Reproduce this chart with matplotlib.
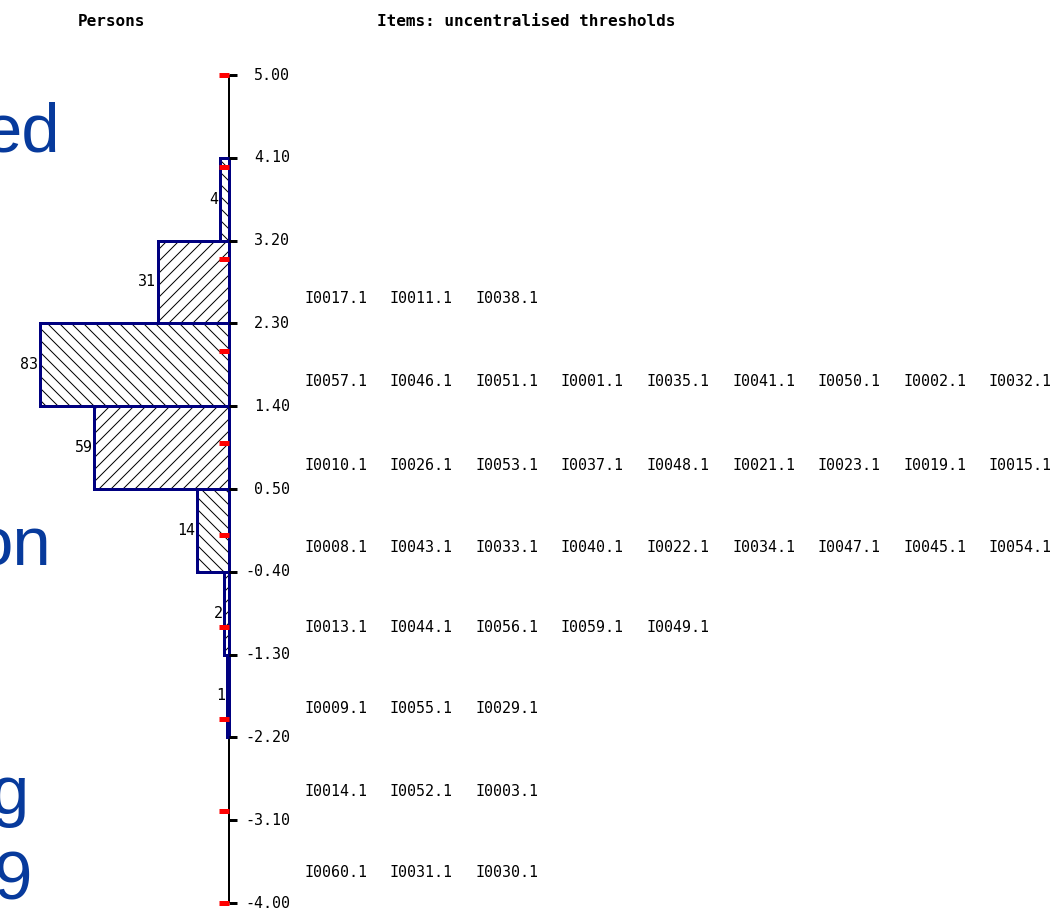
import numpy as np
import matplotlib.pyplot as plt

# person histogram (bins run top to bottom)
bin_edges = [4.10, 3.20, 2.30, 1.40, 0.50, -0.40, -1.30, -2.20]
person_counts = [4, 31, 83, 59, 14, 2, 1]
bar_hatches = ['\\\\', '//', '\\\\', '//', '\\\\', '//', '\\\\']

tick_values = [5.00, 4.10, 3.20, 2.30, 1.40, 0.50, -0.40, -1.30, -2.20, -3.10, -4.00]
red_marks = [5, 4, 3, 2, 1, 0, -1, -2, -3, -4]

# item threshold rows (logit position of each text row)
item_row_pos = [2.57, 1.67, 0.76, -0.14, -1.01, -1.89, -2.79, -3.67]
item_rows = [
    ['I0017.1', 'I0011.1', 'I0038.1'],
    ['I0057.1', 'I0046.1', 'I0051.1', 'I0001.1', 'I0035.1', 'I0041.1', 'I0050.1', 'I0002.1', 'I0032.1'],
    ['I0010.1', 'I0026.1', 'I0053.1', 'I0037.1', 'I0048.1', 'I0021.1', 'I0023.1', 'I0019.1', 'I0015.1'],
    ['I0008.1', 'I0043.1', 'I0033.1', 'I0040.1', 'I0022.1', 'I0034.1', 'I0047.1', 'I0045.1', 'I0054.1'],
    ['I0013.1', 'I0044.1', 'I0056.1', 'I0059.1', 'I0049.1'],
    ['I0009.1', 'I0055.1', 'I0029.1'],
    ['I0014.1', 'I0052.1', 'I0003.1'],
    ['I0060.1', 'I0031.1', 'I0030.1'],
]

DPI = 72
W, H = 1053, 910
MONO = 'DejaVu Sans Mono'
NAVY = '#000080'
BLUE = '#073a9c'

fig = plt.figure(figsize=(W / DPI, H / DPI), dpi=DPI)
ax = fig.add_axes([0, 0, 1, 1])

px_per_person = 2.28
axis_px = 229
px_per_logit = 92.0
ax.set_xlim(-axis_px / px_per_person, (W - axis_px) / px_per_person)
ax.set_ylim(5 - (H - 75) / px_per_logit, 5 + 75 / px_per_logit)
ax.axis('off')

edges = np.array(bin_edges)
centers = (edges[:-1] + edges[1:]) / 2
heights = edges[:-1] - edges[1:]
counts = np.array(person_counts)

# hatch fill
bars = ax.barh(centers, -counts, height=heights, left=0, color='white',
               edgecolor='black', linewidth=0, zorder=1)
for b, h in zip(bars, bar_hatches):
    b.set_hatch(h)
# outlines
ax.barh(centers, -counts, height=heights, left=0, fill=False,
        edgecolor=NAVY, linewidth=3, zorder=3)

for c, y in zip(counts, centers):
    ax.annotate(str(c), (-c, y), xytext=(-2, 0), textcoords='offset points',
                ha='right', va='center', family=MONO, fontsize=15)

# axis
ax.vlines(0, min(tick_values), max(tick_values), color='black', lw=2, zorder=2)
ax.plot(np.zeros(len(tick_values)), tick_values, ls='none', marker=1, ms=8,
        mew=3, color='black', zorder=4)
ax.plot(np.zeros(len(red_marks)), red_marks, ls='none', marker=0, ms=10,
        mew=5, color='red', zorder=5)
for v in tick_values:
    ax.annotate(f'{v:.2f}', (0, v), xytext=(61, 0), textcoords='offset points',
                ha='right', va='center', family=MONO, fontsize=15)

# item labels
for y, row in zip(item_row_pos, item_rows):
    for i, name in enumerate(row):
        ax.annotate(name, (0, y), xytext=(75 + 85.6 * i, 0),
                    textcoords='offset points', ha='left', va='center',
                    family=MONO, fontsize=15)

# headers
fig.text(78 / W, 1 - 22 / H, 'Persons', family=MONO, fontsize=16,
         fontweight='bold', ha='left', va='center')
fig.text(377 / W, 1 - 22 / H, 'Items: uncentralised thresholds', family=MONO,
         fontsize=16, fontweight='bold', ha='left', va='center')

# slide text behind the chart, cut at the left edge
for txt, x, y in [('ed', 60, 151), ('on', 51, 566), ('g', 28, 814), ('9', 32, 900)]:
    fig.text(x / W, 1 - y / H, txt, family='Liberation Sans', fontsize=69,
             color=BLUE, ha='right', va='baseline')

fig.savefig('out.png', dpi=DPI)
